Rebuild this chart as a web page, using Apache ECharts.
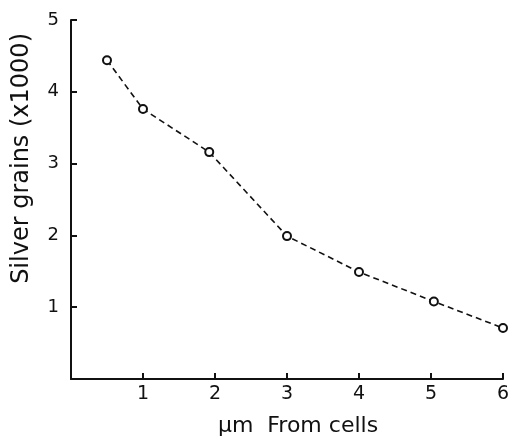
<!DOCTYPE html>
<html>
<head>
<meta charset="utf-8">
<title>Silver grains vs distance from cells</title>
<script src="https://cdn.jsdelivr.net/npm/echarts@6/dist/echarts.min.js"></script>
<style>
  html, body { margin: 0; padding: 0; background: #fff; }
  #chart { width: 509px; height: 436px; }
</style>
</head>
<body>
<div id="chart"></div>
<script>
// distance from cells (um) and silver grains (x1000)
var distance = [0.5, 1, 1.92, 3, 4, 5.04, 6];
var grains = [4.44, 3.76, 3.16, 1.99, 1.49, 1.08, 0.71];
var xTicks = [1, 2, 3, 4, 5, 6];
var yTicks = [1, 2, 3, 4, 5];

var font = '"DejaVu Sans", "Liberation Sans", sans-serif';
var chart = echarts.init(document.getElementById('chart'));

chart.setOption({
  animation: false,
  grid: { left: 71, right: 6, top: 20, bottom: 57, outerBoundsMode: 'none', containLabel: false },
  xAxis: {
    type: 'value',
    min: 0,
    max: 6,
    interval: 1,
    name: 'μm  From cells',
    nameLocation: 'middle',
    nameGap: 36,
    nameTextStyle: { color: '#111', fontFamily: font, fontSize: 22, padding: [0, 0, 0, 22] },
    axisLine: { lineStyle: { color: '#111', width: 2 } },
    axisTick: { inside: true, length: 6, lineStyle: { color: '#111', width: 2 } },
    axisLabel: {
      color: '#111', fontFamily: font, fontSize: 19, margin: 6,
      formatter: function (v) { return xTicks.indexOf(v) >= 0 ? String(v) : ''; }
    },
    splitLine: { show: false }
  },
  yAxis: {
    type: 'value',
    min: 0,
    max: 5,
    interval: 1,
    axisLine: { show: true, lineStyle: { color: '#111', width: 2 } },
    axisTick: { show: true, inside: true, length: 6, lineStyle: { color: '#111', width: 2 } },
    axisLabel: {
      color: '#111', fontFamily: font, fontSize: 18, margin: 12,
      formatter: function (v) { return yTicks.indexOf(v) >= 0 ? String(v) : ''; }
    },
    splitLine: { show: false }
  },
  graphic: [{
    type: 'text',
    left: 10,
    top: 33,
    rotation: Math.PI / 2,
    style: {
      text: 'Silver grains (x1000)',
      fill: '#111',
      font: '24px ' + font
    }
  }],
  series: [{
    type: 'line',
    clip: false,
    data: distance.map(function (d, i) { return [d, grains[i]]; }),
    symbol: 'circle',
    symbolSize: 8,
    itemStyle: { color: '#fff', borderColor: '#111', borderWidth: 2 },
    lineStyle: { color: '#111', width: 1.6, type: [6, 4] }
  }]
});
</script>
</body>
</html>
